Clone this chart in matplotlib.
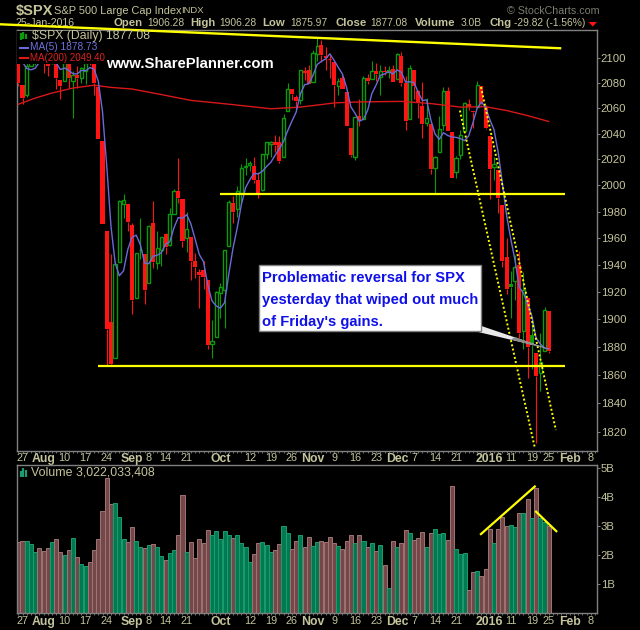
# $SPX daily candles with MA(5), MA(200) and volume, StockCharts style
import matplotlib
matplotlib.use("Agg")
import matplotlib.pyplot as plt
from matplotlib.patches import Rectangle, Polygon
from matplotlib.ticker import NullLocator, NullFormatter

opens = [2102.2, 2078.2, 2070.0, 2093.0, 2107.0, 2111.0,
         2104.0, 2097.0, 2096.0, 2100.0, 2082.0, 2081.0, 2102.0, 2081.0, 2086.0, 2084.0, 2089.0, 2101.0, 2095.0, 2076.6, 2034.0, 1965.0, 1898.0, 1872.0, 1942.0, 1986.0, 1986.0,
         1970.0, 1916.0, 1950.8, 1947.8, 1927.0, 1971.5, 1941.6, 1951.0, 1963.0, 1955.0, 1978.0, 1995.3, 1989.7, 1960.0, 1961.0, 1943.0, 1934.8, 1936.0, 1929.0, 1881.9, 1887.0,
         1919.0, 1921.8, 1954.0, 1986.6, 1982.0, 1994.0, 2013.7, 2015.6, 2015.0, 2003.7, 1996.5, 2024.4, 2031.7, 2033.0, 2033.5, 2021.9, 2058.0, 2075.0, 2068.8, 2066.5, 2088.5, 2090.0,
         2080.8, 2103.0, 2110.6, 2101.7, 2098.6, 2096.6, 2077.2, 2084.0, 2072.3, 2044.6, 2022.0, 2053.5, 2051.0, 2083.7, 2082.8, 2089.4, 2084.4, 2089.3, 2088.8, 2090.9,
         2082.9, 2101.7, 2080.0, 2051.2, 2090.4, 2073.4, 2061.2, 2047.9, 2047.3, 2013.4, 2025.6, 2046.5, 2073.8, 2040.8, 2010.3, 2023.2, 2042.2, 2063.5, 2057.8, 2060.5, 2077.3, 2060.6,
         2038.2, 2013.8, 2011.7, 1985.3, 1946.0, 1926.0, 1927.8, 1940.3, 1891.7, 1916.0, 1888.7, 1876.0, 1861.5, 1877.4, 1906.3]
highs = [2106.0, 2078.2, 2095.6, 2110.0, 2110.0, 2114.0,
         2105.0, 2102.0, 2112.0, 2103.0, 2082.0, 2105.0, 2102.0, 2089.0, 2093.0, 2092.5, 2102.9, 2103.0, 2096.0, 2076.6, 2034.0, 1965.0, 1948.0, 1943.0, 1989.0, 1993.0, 1986.0,
         1971.0, 1948.9, 1975.0, 1947.8, 1970.0, 1988.0, 1965.0, 1961.1, 1963.6, 1983.0, 1997.3, 2020.9, 1989.7, 1979.6, 1961.0, 1949.0, 1937.0, 1942.9, 1929.0, 1899.5, 1920.5,
         1927.0, 1951.4, 1989.0, 1991.6, 1999.3, 2016.5, 2021.0, 2018.7, 2022.0, 2010.0, 2024.0, 2033.5, 2034.5, 2039.0, 2037.9, 2055.0, 2079.7, 2075.0, 2070.4, 2090.4, 2092.5, 2094.3,
         2106.0, 2116.5, 2114.6, 2108.8, 2101.9, 2096.6, 2083.7, 2086.9, 2072.3, 2044.6, 2053.2, 2066.7, 2085.3, 2086.7, 2097.0, 2095.6, 2094.1, 2093.0, 2093.3, 2093.8,
         2103.4, 2104.3, 2085.0, 2093.8, 2090.4, 2073.9, 2080.3, 2067.7, 2047.3, 2022.9, 2053.9, 2076.7, 2076.4, 2040.8, 2022.9, 2042.7, 2064.7, 2067.4, 2057.8, 2081.6, 2077.3, 2062.5,
         2038.2, 2021.9, 2011.7, 1985.3, 1960.4, 1935.7, 1947.4, 1950.3, 1934.5, 1916.0, 1901.4, 1876.0, 1889.9, 1908.9, 1906.3]
lows = [2077.1, 2063.5, 2069.0, 2093.0, 2094.0, 2102.0,
        2088.0, 2085.0, 2095.0, 2075.0, 2067.0, 2081.0, 2076.0, 2052.0, 2076.0, 2080.0, 2079.0, 2094.0, 2070.0, 2035.7, 1970.9, 1867.0, 1867.0, 1872.0, 1942.0, 1975.0, 1965.0,
        1904.0, 1916.0, 1944.7, 1911.0, 1927.0, 1937.9, 1937.0, 1939.0, 1948.0, 1954.0, 1977.9, 1986.7, 1953.5, 1950.0, 1929.0, 1930.0, 1908.0, 1922.0, 1879.0, 1871.9, 1887.0,
        1900.7, 1893.7, 1954.0, 1971.0, 1976.0, 1987.5, 2007.6, 2010.6, 2001.8, 1990.0, 1996.0, 2020.0, 2022.0, 2026.0, 2017.0, 2021.9, 2058.0, 2066.0, 2058.8, 2063.0, 2082.0, 2079.0,
        2080.8, 2097.5, 2096.9, 2090.4, 2083.7, 2060.6, 2069.9, 2074.9, 2045.7, 2022.0, 2019.4, 2045.9, 2051.0, 2078.8, 2082.8, 2081.4, 2070.3, 2086.3, 2084.0, 2080.4,
        2082.9, 2077.1, 2042.4, 2051.2, 2066.8, 2052.3, 2036.5, 2045.7, 2008.8, 1993.3, 2025.6, 2042.4, 2041.7, 2005.3, 2005.9, 2020.5, 2042.2, 2058.7, 2044.2, 2060.5, 2062.0, 2043.6,
        1989.7, 2004.2, 1979.0, 1938.8, 1918.5, 1901.1, 1914.4, 1886.4, 1878.9, 1857.8, 1864.6, 1812.3, 1849.0, 1877.4, 1876.0]
closes = [2079.65, 2067.64, 2093.25, 2108.57, 2108.63, 2103.84,
          2098.04, 2093.32, 2099.84, 2083.56, 2077.57, 2104.18, 2084.07, 2086.05, 2083.39, 2091.54, 2102.44, 2096.92, 2079.61, 2035.73, 1970.89, 1893.21, 1867.61, 1940.51, 1987.66, 1988.87, 1972.18,
          1913.85, 1948.86, 1951.13, 1921.22, 1969.41, 1942.04, 1952.29, 1961.05, 1953.03, 1978.09, 1995.31, 1990.20, 1958.03, 1966.97, 1942.74, 1938.76, 1932.24, 1931.34, 1881.77, 1884.09, 1920.03,
          1923.82, 1951.36, 1987.05, 1979.92, 1995.83, 2013.43, 2014.89, 2017.46, 2003.69, 1994.24, 2023.86, 2033.11, 2033.66, 2030.77, 2018.94, 2052.51, 2075.15, 2071.18, 2065.89, 2090.35, 2089.41, 2079.36,
          2104.05, 2109.79, 2102.31, 2099.93, 2099.20, 2078.58, 2081.72, 2075.00, 2045.97, 2023.04, 2053.19, 2050.44, 2083.58, 2081.24, 2089.17, 2086.59, 2089.14, 2088.87, 2090.11, 2080.41,
          2102.63, 2079.51, 2049.62, 2091.69, 2077.07, 2063.59, 2047.62, 2052.23, 2012.37, 2021.94, 2043.41, 2073.07, 2041.89, 2005.55, 2021.15, 2038.97, 2064.29, 2060.99, 2056.50, 2078.36, 2063.36, 2043.94,
          2012.66, 2016.71, 1990.26, 1943.09, 1922.03, 1923.67, 1938.68, 1890.28, 1921.84, 1880.33, 1881.33, 1859.33, 1868.99, 1906.90, 1877.08]
prev_close = 2102.15

ma5 = [2108.7, 2096.4, 2091.4, 2090.3, 2091.5, 2096.4,
       2102.5, 2102.5, 2100.7, 2095.7, 2090.5, 2091.7, 2089.8, 2087.1, 2087.1, 2089.8, 2089.5, 2092.1, 2090.8, 2081.2, 2057.1, 2015.3, 1969.4, 1941.6, 1932.0, 1935.6, 1951.4,
       1960.6, 1962.3, 1955.0, 1941.4, 1940.9, 1946.5, 1947.2, 1949.2, 1955.6, 1957.3, 1968.0, 1975.5, 1974.9, 1977.7, 1970.7, 1959.3, 1947.7, 1942.4, 1925.4, 1913.6, 1909.9,
       1908.2, 1912.2, 1933.3, 1952.4, 1967.6, 1985.5, 1998.2, 2004.3, 2009.1, 2008.7, 2010.8, 2014.5, 2017.7, 2023.1, 2028.1, 2033.8, 2042.2, 2049.7, 2056.7, 2071.0, 2078.4, 2079.2,
       2085.8, 2094.6, 2097.0, 2099.1, 2103.1, 2098.0, 2092.3, 2086.9, 2076.1, 2060.9, 2055.8, 2049.5, 2051.2, 2058.3, 2071.5, 2078.2, 2085.9, 2087.0, 2088.8, 2087.0,
       2090.2, 2088.3, 2080.5, 2080.8, 2080.1, 2072.3, 2065.9, 2066.4, 2050.6, 2039.6, 2035.5, 2040.6, 2038.5, 2037.2, 2037.0, 2036.1, 2034.4, 2038.2, 2048.4, 2059.8, 2064.7, 2060.6,
       2051.0, 2043.0, 2025.4, 2001.3, 1977.0, 1959.2, 1943.5, 1923.6, 1919.3, 1911.0, 1902.5, 1886.6, 1882.4, 1879.4, 1878.7]

ma200_bars = [0, 4, 8, 13, 18, 22, 27, 34, 41, 50, 60, 67, 72, 75, 81, 91, 98, 105, 111, 116, 121, 126]
ma200 = [2062.9, 2067.8, 2071.8, 2075.8, 2078.0, 2076.3, 2075.0, 2070.6, 2066.0, 2063.0, 2059.4, 2060.7,
         2062.7, 2064.0, 2064.8, 2065.2, 2063.5, 2060.7, 2061.0, 2058.0, 2054.0, 2049.4]

# billions
volume = [2.45, 2.49, 2.49, 2.39, 2.11, 2.25, 2.15, 2.25, 2.46, 2.56, 2.11, 2.01, 2.18, 2.60, 1.94, 1.70, 1.63, 1.77, 2.18, 2.56,
          3.53, 4.67, 3.77, 3.80, 3.32, 2.56, 2.46, 2.98, 2.49, 2.29, 2.25, 2.36, 2.39, 2.29, 1.98, 1.84, 2.08, 2.18, 2.70, 4.08,
          2.11, 2.46, 1.91, 2.56, 2.43, 2.87, 2.70, 2.84, 2.56, 2.84, 2.70, 2.60, 2.70, 2.43, 2.29, 1.77, 2.05, 2.43, 2.46, 2.36,
          2.11, 2.18, 2.39, 3.01, 2.77, 2.22, 2.49, 2.70, 2.29, 2.63, 2.32, 2.46,
          2.49, 2.46, 2.63, 2.43, 2.32, 2.22, 2.49, 2.70, 2.43, 2.70, 2.49, 2.29, 2.43, 2.15, 2.36, 1.67, 0.87, 2.49, 2.29, 2.43,
          2.87, 2.77, 2.53, 2.60, 2.80, 2.29, 2.77, 2.91, 2.74, 2.77, 2.53, 4.39, 2.22, 2.05, 2.08, 0.80, 1.43, 1.46, 1.29, 1.53,
          2.91, 2.43, 2.91, 3.32, 3.01, 3.05, 2.98, 3.46, 3.46, 3.94, 3.29, 4.32, 3.29, 3.16, 3.01]

x_tick_bars = [1, 6, 11, 16, 21, 27, 31, 35, 40, 48, 55, 60, 65, 70, 75, 80, 85, 90, 94, 99, 104, 112, 117, 122, 126, 131, 136]
x_tick_labels = ["27", "Aug", "10", "17", "24", "Sep", "8", "14", "21", "Oct", "12", "19", "26", "Nov", "9", "16", "23", "Dec", "7", "14", "21", "2016", "11", "19", "25", "Feb", "8"]
bold_labels = ("Aug", "Sep", "Oct", "Nov", "Dec", "2016", "Feb")
price_ticks = list(range(1820, 2101, 20))
vol_ticks = [1, 2, 3, 4, 5]
vol_tick_labels = ["1B", "2B", "3B", "4B", "5B"]

# drawn lines, in bar / price coordinates
resistance_bars, resistance_prices = [-4.35, 128.7], [2127.0, 2107.6]
support_hi_bars, support_hi_prices = [47.9, 129.9], [1993.6, 1993.6]
support_lo_bars, support_lo_prices = [18.9, 129.9], [1866.7, 1866.7]
channel_a_bars, channel_a_prices = [104.9, 122.7], [2058.0, 1809.0]
channel_b_bars, channel_b_prices = [109.9, 127.7], [2076.6, 1821.3]
vol_up_bars, vol_up_vals = [109.9, 122.7], [2.73, 4.37]
vol_down_bars, vol_down_vals = [123.0, 127.8], [3.50, 2.83]

RED = "#ff1414"
GREEN = "#0a9a0a"
YELLOW = "#ffff00"
TAN = "#c4c49c"
BORDER = "#808080"
FONT = "Liberation Sans"

plt.rcParams["font.family"] = FONT

fig = plt.figure(figsize=(6.4, 6.3), dpi=100, facecolor="black")


def pixel_axes(zorder):
    a = fig.add_axes([0, 0, 1, 1], zorder=zorder)
    a.set_xlim(0, 640)
    a.set_ylim(630, 0)
    a.axis("off")
    return a


under = pixel_axes(0)
over = pixel_axes(3)

ax = fig.add_axes([16.5 / 640, 1 - 450.7 / 630, 580.2 / 640, 421 / 630], zorder=1, facecolor="black")
vax = fig.add_axes([16.5 / 640, 1 - 613.3 / 630, 580.2 / 640, 148.3 / 630], zorder=1, facecolor="black")

n = len(closes)
bars = list(range(n))

for i in bars:
    o, h, l, c = opens[i], highs[i], lows[i], closes[i]
    before = closes[i - 1] if i else prev_close
    col = GREEN if c >= before else RED
    top, bot = max(o, c), min(o, c)
    ax.vlines(i, top, h, color=col, lw=0.8, zorder=3)
    ax.vlines(i, l, bot, color=col, lw=0.8, zorder=3)
    if c > o:
        ax.bar(i, top - bot, bottom=bot, width=0.78, facecolor="none", edgecolor=col, lw=1.0, zorder=3)
    else:
        ax.bar(i, max(top - bot, 0.6), bottom=bot, width=0.98, color=col, lw=0, zorder=3)

ax.plot(ma200_bars, ma200, color="#d81818", lw=1.0, zorder=4)
ax.plot(bars, ma5, color="#6a6ad8", lw=1.0, zorder=5)

ax.plot(resistance_bars, resistance_prices, color=YELLOW, lw=1.7, zorder=6, clip_on=False)
ax.plot(support_hi_bars, support_hi_prices, color=YELLOW, lw=1.6, zorder=6, solid_capstyle="butt")
ax.plot(support_lo_bars, support_lo_prices, color=YELLOW, lw=1.6, zorder=6, solid_capstyle="butt")
for dx, dy in ((channel_a_bars, channel_a_prices), (channel_b_bars, channel_b_prices)):
    ax.plot(dx, dy, color=YELLOW, lw=1.4, ls=(0, (1, 1.2)), zorder=6, clip_on=False)

ax.set_yscale("log")
ax.set_xlim(-0.43, 137.4)
ax.set_ylim(1807.0, 2122.6)
ax.yaxis.set_minor_locator(NullLocator())
ax.yaxis.set_minor_formatter(NullFormatter())
ax.yaxis.tick_right()
ax.set_yticks(price_ticks)
ax.set_yticklabels([str(p) for p in price_ticks])

for i in bars:
    up = closes[i] >= (closes[i - 1] if i else prev_close)
    vax.bar(i, volume[i], width=0.96,
            color="#007a50" if up else "#744848",
            edgecolor="#1c9c70" if up else "#a07474", lw=0.7)
vax.plot(vol_up_bars, vol_up_vals, color=YELLOW, lw=1.6)
vax.plot(vol_down_bars, vol_down_vals, color=YELLOW, lw=1.6)
vax.set_xlim(-0.43, 137.4)
vax.set_ylim(0, 5.11)
vax.yaxis.tick_right()
vax.set_yticks(vol_ticks)
vax.set_yticklabels(vol_tick_labels)

for a in (ax, vax):
    for s in a.spines.values():
        s.set_color(BORDER)
        s.set_linewidth(1.0)
    a.set_xticks(x_tick_bars)
    a.set_xticklabels(x_tick_labels)
    a.set_xticks(range(0, 138), minor=True)
    a.tick_params(axis="x", which="both", length=1.5, width=0.6, color=BORDER, pad=0.5, labelsize=7.8, labelcolor=TAN)
    a.tick_params(axis="y", which="major", length=2, width=0.7, color=BORDER, pad=1, labelsize=8.2, labelcolor=TAN)
    for t in a.get_xticklabels():
        if t.get_text() in bold_labels:
            t.set_fontweight("bold")
            t.set_fontsize(8.8)

# header
under.text(16, 10.5, "$SPX", color=TAN, fontsize=10.5, fontweight="bold", va="center")
under.text(54, 10.5, "S&P 500 Large Cap Index", color=TAN, fontsize=7.9, va="center")
under.text(181, 10.5, "INDX", color=TAN, fontsize=6.8, va="center")
under.text(16, 23.5, "25-Jan-2016", color=TAN, fontsize=7.6, va="center")
header_row = [(114, "Open", True), (147, "1906.28", False), (190.7, "High", True), (219, "1906.28", False),
              (262.7, "Low", True), (290.7, "1875.97", False), (335, "Close", True), (370.7, "1877.08", False),
              (415, "Volume", True), (460.7, "3.0B", False), (489, "Chg", True), (514, "-29.82 (-1.56%)", False)]
for px, label, strong in header_row:
    under.text(px, 23.5, label, color=TAN, va="center",
               fontsize=8.2 if strong else 7.4, fontweight="bold" if strong else "normal")
under.add_patch(Polygon([(588.5, 22), (597, 22), (592.8, 26.5)], fc=RED, ec="none"))
under.text(507, 10.5, "\u00a9 StockCharts.com", color="#7c7c70", fontsize=7.7, va="center")

# legend box hides the candles behind it
over.add_patch(Rectangle((17.2, 30.5), 88, 33, fc="black", ec="none"))
over.vlines([20.5, 23, 25.5], [33, 32, 34], [40, 39, 39], color=GREEN, lw=1.6)
over.text(31.5, 36.5, "$SPX (Daily) 1877.08", color=TAN, fontsize=8.8, va="center")
over.plot([20, 28], [47.5, 47.5], color="#6a6ad8", lw=1.5)
over.text(30, 47.5, "MA(5) 1878.73", color="#7070e0", fontsize=7.3, va="center")
over.plot([20, 28], [58, 58], color="#e01818", lw=1.5)
over.text(30, 58, "MA(200) 2049.40", color="#e02020", fontsize=7.0, va="center")
over.text(106, 64, "www.SharePlanner.com", color="white", fontsize=10.7, fontweight="bold", va="center")

over.vlines([20.5, 23, 25.5], [471, 468, 470], [476.5, 476.5, 476.5], color="#1c9c70", lw=1.6)
over.text(31, 472.5, "Volume 3,022,033,408", color=TAN, fontsize=8.9, va="center")

# callout
over.add_patch(Polygon([(480, 325.5), (476, 331.5), (548, 348.5), (549, 349)], fc="#e8e8e8", ec="none"))
over.add_patch(Polygon([(515, 337), (511, 339.5), (549, 349.5)], fc="#8c8c8c", ec="none"))
over.add_patch(Rectangle((259, 265), 221.5, 66, fc="white", ec="#808080", lw=1.0))
callout_lines = ["Problematic reversal for SPX", "yesterday that wiped out much", "of Friday's gains."]
for k, line in enumerate(callout_lines):
    over.text(262, 278.5 + 21.7 * k, line, color="#1010e8", fontsize=10.6, fontweight="bold", va="center")

fig.savefig("out.png", dpi=100, facecolor="black")
